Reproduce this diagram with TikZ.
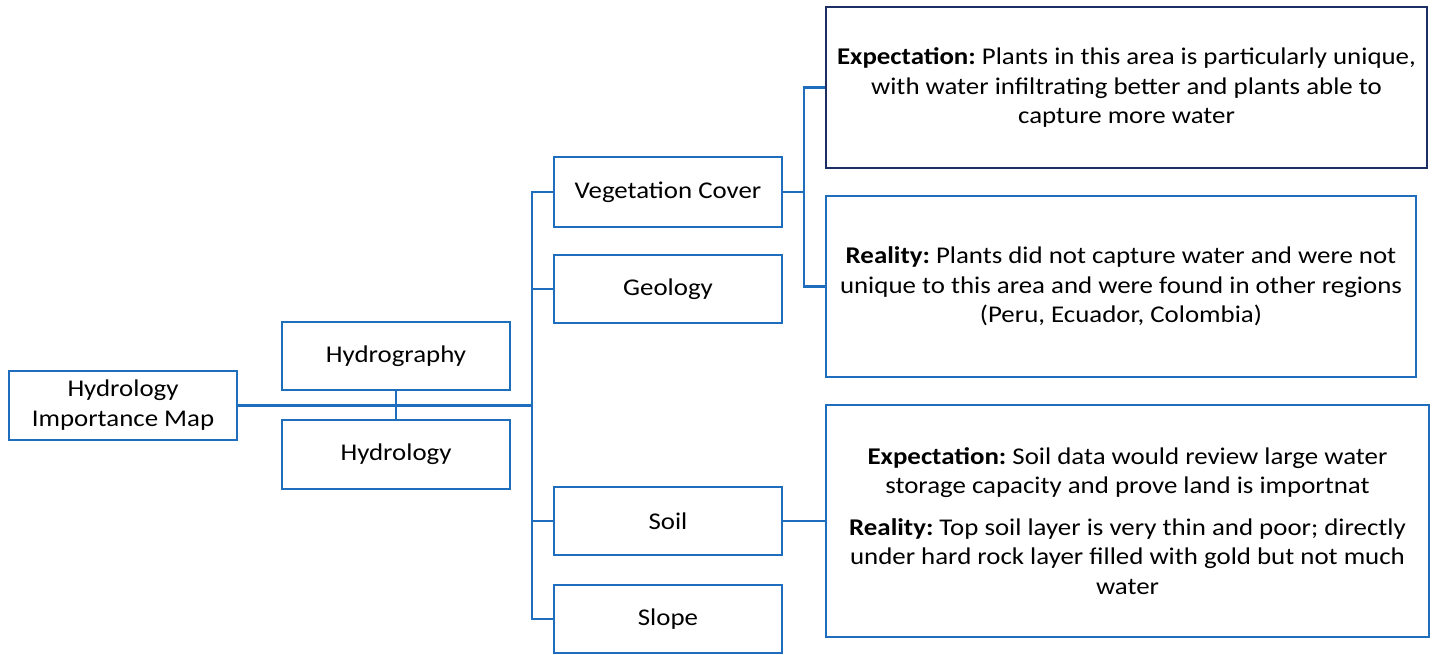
\documentclass[tikz,border=0pt]{standalone}
\usepackage{fontspec}
\setmainfont[FakeStretch=1.12]{Carlito}
\definecolor{lblue}{RGB}{31,110,190}
\definecolor{navy}{RGB}{28,46,100}
\frenchspacing
\begin{document}
\begin{tikzpicture}[x=1pt,y=-1pt,
  box/.style={draw=lblue,line width=2.8pt,rectangle,inner sep=0pt,align=center,
    font=\fontsize{24}{30}\selectfont\frenchspacing},
  small/.style={box,minimum width=228pt,minimum height=68pt},
  big/.style={box,font=\fontsize{24}{29.5}\selectfont\frenchspacing},
  conn/.style={draw=lblue,line width=2.8pt}]
\useasboundingbox (0,0) rectangle (1435,654);
\node[small,minimum height=69pt] (him) at (123,405.5) {Hydrology\\Importance Map};
\node[small] (hgr) at (396,356) {Hydrography};
\node[small,minimum height=69pt] (hyd) at (396,454.5) {Hydrology};
\node[small,minimum height=70pt] (veg) at (668,192) {Vegetation Cover};
\node[small] (geo) at (668,289) {Geology};
\node[small] (soil) at (668,521) {Soil};
\node[small] (slope) at (668,619) {Slope};
\node[big,draw=navy,minimum width=601pt,minimum height=161pt] (exp1) at (1126.5,87.5)
 {\textbf{Expectation:} Plants in this area is particularly unique,\\
  with water infiltrating better and plants able to\\ capture more water};
\node[big,minimum width=590pt,minimum height=181pt] (real1) at (1121,286.5)
 {\textbf{Reality:} Plants did not capture water and were not\\
  unique to this area and were found in other regions\\ (Peru, Ecuador, Colombia)};
\node[big,minimum width=603pt,minimum height=232pt] (soilbox) at (1127.5,521)
 {\textbf{Expectation:} Soil data would review large water\\
  storage capacity and prove land is importnat\\[12pt]
  \textbf{Reality:} Top soil layer is very thin and poor; directly\\
  under hard rock layer filled with gold but not much\\ water};
\coordinate (tx) at (532,0);
\coordinate (vx) at (804,0);
\draw[conn] (him.east) -- (him.east -| tx);
\draw[conn] (hgr.south) -- (hyd.north);
\draw[conn] (veg.west) -- (veg.west -| tx) -- (slope.west -| tx) -- (slope.west);
\draw[conn] (geo.west) -- (geo.west -| tx);
\draw[conn] (soil.west) -- (soil.west -| tx);
\draw[conn] (veg.east) -- (veg.east -| vx);
\draw[conn] (exp1.west) -- (exp1.west -| vx) -- (vx |- real1.west) -- (real1.west);
\draw[conn] (soil.east) -- (soilbox.west);
\end{tikzpicture}
\end{document}
